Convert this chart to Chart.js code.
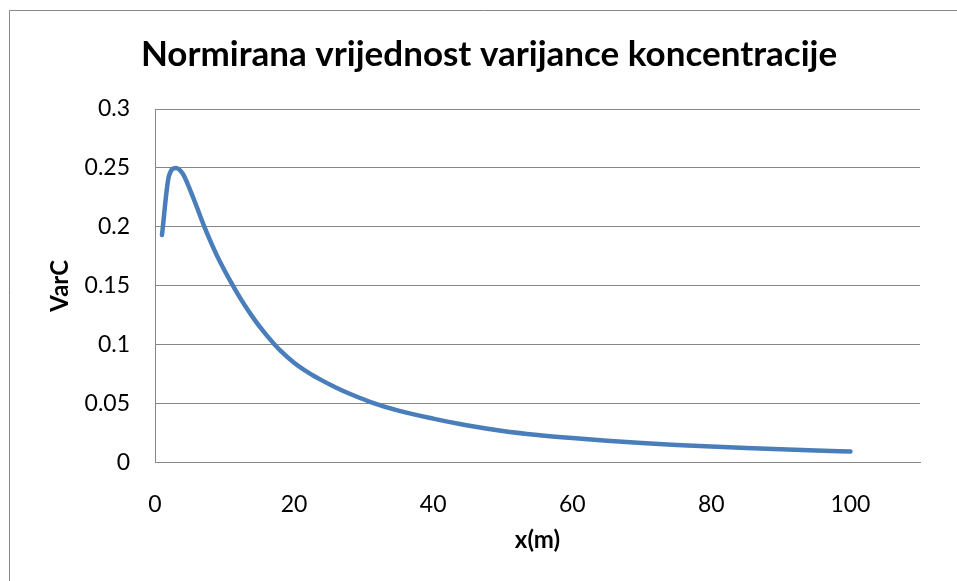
<!DOCTYPE html>
<html>
<head>
<meta charset="utf-8">
<title>Normirana vrijednost varijance koncentracije</title>
<script src="https://cdn.jsdelivr.net/npm/chart.js@4.4.1/dist/chart.umd.min.js"></script>
<style>
    html, body { margin: 0; padding: 0; background: #fff; }
    #chart { display: block; }
</style>
</head>
<body>
<canvas id="chart" width="957" height="581"></canvas>
<script>
// ─── Data ─────────────────────────────────────────────────────────────────
const xValues = [1, 2, 3, 4, 5, 6, 7, 8, 9, 10, 11, 12, 13, 14, 15, 16, 17, 18,
                 20, 22, 24, 26, 28, 31, 35, 40, 45, 50, 55, 60, 65, 70, 75,
                 80, 85, 90, 95, 100];
const varC    = [0.193, 0.243, 0.250, 0.245, 0.232, 0.217, 0.2015, 0.1875, 0.1745,
                 0.163, 0.1523, 0.1421, 0.1326, 0.1238, 0.1157, 0.1083, 0.1015, 0.0952,
                 0.0847, 0.0765, 0.0697, 0.0637, 0.0583, 0.0513, 0.0440, 0.0372, 0.0314,
                 0.0268, 0.0234, 0.0207, 0.0184, 0.0165, 0.0149, 0.0135, 0.0123,
                 0.0112, 0.0102, 0.0093];
const xTicks  = [0, 20, 40, 60, 80, 100];
const yTicks  = ['0', '0.05', '0.1', '0.15', '0.2', '0.25', '0.3'];

const FONT = 'Lato';
const GRID = '#878787';

// ─── Outer chart frame (left and top edges visible) ───────────────────────
const framePlugin = {
    id: 'frame',
    beforeDraw(chart) {
        const ctx = chart.ctx;
        ctx.save();
        ctx.fillStyle = '#fff';
        ctx.fillRect(0, 0, chart.width, chart.height);
        ctx.strokeStyle = GRID;
        ctx.lineWidth = 1;
        ctx.beginPath();
        ctx.moveTo(9.5, chart.height);
        ctx.lineTo(9.5, 10.5);
        ctx.lineTo(chart.width, 10.5);
        ctx.stroke();
        ctx.restore();
    }
};

new Chart(document.getElementById('chart'), {
    type: 'line',
    data: {
        datasets: [{
            label: 'VarC',
            data: xValues.map((x, i) => ({ x: x, y: varC[i] })),
            borderColor: '#4a7ebb',
            borderWidth: 4.5,
            borderCapStyle: 'round',
            borderJoinStyle: 'round',
            pointRadius: 0,
            cubicInterpolationMode: 'monotone',
            fill: false
        }]
    },
    options: {
        responsive: false,
        animation: false,
        devicePixelRatio: 1,
        layout: { padding: { left: 21, top: 0, right: 0, bottom: 0 } },
        plugins: {
            legend: { display: false },
            tooltip: { enabled: false },
            title: {
                display: true,
                text: 'Normirana vrijednost varijance koncentracije',
                color: '#000',
                font: { family: FONT, size: 35, weight: 'bold', lineHeight: 1.2 },
                padding: { top: 33.5, bottom: 33.5 }
            }
        },
        scales: {
            x: {
                type: 'linear',
                min: 0,
                max: 110,
                afterBuildTicks(scale) {
                    scale.ticks = xTicks.map(v => ({ value: v }));
                },
                afterFit(scale) { scale.height = 118.5; },
                grid: { display: false },
                border: { display: true, color: GRID, width: 1 },
                ticks: {
                    color: '#000',
                    padding: 20,
                    maxRotation: 0,
                    font: { family: FONT, size: 23, lineHeight: 1.2 }
                },
                title: {
                    display: true,
                    text: 'x(m)',
                    color: '#000',
                    font: { family: FONT, size: 24, weight: 'bold', lineHeight: 1.2 },
                    padding: { top: 0, bottom: 26.6 }
                }
            },
            y: {
                min: 0,
                max: 0.3,
                afterBuildTicks(scale) {
                    scale.ticks = yTicks.map(v => ({ value: parseFloat(v) }));
                },
                afterFit(scale) { scale.width = 134; },
                grid: { color: GRID, lineWidth: 1, drawTicks: false },
                border: { display: true, color: GRID, width: 1 },
                ticks: {
                    color: '#000',
                    padding: 25,
                    font: { family: FONT, size: 23, lineHeight: 1.2 },
                    callback: (value) => yTicks.find(t => parseFloat(t) === value) || String(value)
                },
                title: {
                    display: true,
                    text: 'VarC',
                    color: '#000',
                    font: { family: FONT, size: 24, weight: 'bold', lineHeight: 1.2 },
                    padding: { top: 24.6, bottom: 0 }
                }
            },
            // invisible right axis, only reserves the empty strip right of the plot
            yRight: {
                type: 'linear',
                position: 'right',
                display: true,
                afterFit(scale) { scale.width = 37; },
                grid: { display: false },
                border: { display: false },
                ticks: { display: false }
            }
        }
    },
    plugins: [framePlugin]
});
</script>
</body>
</html>
